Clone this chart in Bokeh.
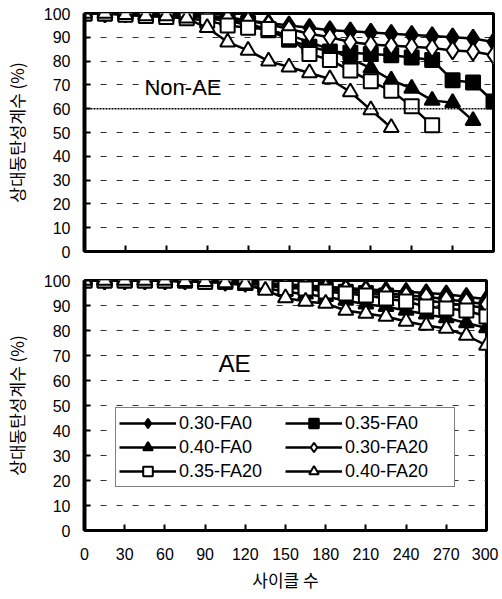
from bokeh.plotting import figure
from bokeh.models import Range1d, FixedTicker, Span, Legend, LegendItem, Label
from bokeh.layouts import column
from bokeh.embed import file_html
from bokeh.resources import INLINE

# ---- data ----
cycles = list(range(0, 301, 15))
x_ticks = list(range(0, 301, 30))
y_ticks = list(range(0, 101, 10))
series_labels = ["0.30-FA0", "0.35-FA0", "0.40-FA0", "0.30-FA20", "0.35-FA20", "0.40-FA20"]

# Non-AE (top panel)
nonae_030_fa0 = [100, 100, 100, 100, 100, 99.5, 99, 98.5, 97, 96, 95, 94, 93, 92.5, 92, 91.5, 91, 90.5, 90, 89.5, 88]
nonae_035_fa0 = [100, 100, 100, 99.5, 99.5, 99, 98.5, 97.5, 96, 93, 89, 86, 84, 83.5, 83, 82.5, 81.5, 80.5, 72, 71, 63]
nonae_040_fa0 = [100, 100, 100, 99.5, 99.5, 99, 98, 97, 95, 93, 91, 88, 85, 81, 77, 72, 68.5, 63.5, 62.5, 55]
nonae_030_fa20 = [100, 100, 100, 100, 99.5, 99, 98.5, 98, 97, 95.5, 93.5, 91.5, 90, 88, 87, 86.5, 86, 85.5, 84.5, 84, 82.5]
nonae_035_fa20 = [100, 100, 99.5, 99, 98.5, 98, 97, 95, 94, 93.5, 90, 83, 80.5, 76, 71.5, 67.5, 61, 53]
nonae_040_fa20 = [100, 100, 99.5, 99, 99, 98, 94, 88, 84.5, 80, 77.5, 75, 72.5, 67, 59.5, 52]

# AE (bottom panel)
ae_030_fa0 = [100, 100, 100, 100, 100, 100, 100, 99.5, 99.5, 99, 98.5, 98, 97.5, 97, 96.5, 96, 95.5, 95, 94.5, 93.5, 92.5]
ae_035_fa0 = [100, 100, 100, 100, 100, 100, 99.5, 99.5, 99, 98.5, 97.5, 97, 96.5, 95.5, 95, 94, 93, 92, 91, 90, 89]
ae_040_fa0 = [100, 100, 100, 100, 100, 99.5, 99.5, 99, 98, 97, 95.5, 94.5, 93.5, 92, 90.5, 89.5, 88, 86.5, 85, 83, 81]
ae_030_fa20 = [100, 100, 100, 100, 100, 100, 100, 99.5, 99, 98.5, 98, 97.5, 97, 96.5, 96, 95, 94, 93.5, 92.5, 91.5, 90.5]
ae_035_fa20 = [100, 100, 100, 100, 100, 100, 99.5, 99.5, 99, 98, 97, 96.8, 95.6, 94.8, 94, 92.8, 91.6, 89.6, 88.8, 88, 85.6]
ae_040_fa20 = [100, 100, 100, 100, 100, 99.5, 99.5, 99, 98.5, 96, 93, 91.6, 90.8, 88, 86.8, 85.6, 83.6, 82, 80.8, 78, 74]

panel_titles = ["Non-AE", "AE"]
panel_title_pos = [(44, 69), (100, 67)]
y_label = "상대동탄성계수 (%)"
x_label = "사이클 수"

# ---- styles ----
markers = ["diamond", "square", "triangle", "diamond", "square", "triangle"]
fills = ["black", "black", "black", "white", "white", "white"]
sizes = [18, 14, 15, 18, 14, 15]
NUM_FONT = "Liberation Sans"
KR_FONT = "Noto Sans CJK KR"


def make_fig(fw, fh, bl, bt, bb, br, show_xlabels):
    p = figure(frame_width=fw, frame_height=fh, x_range=Range1d(0, 300), y_range=Range1d(0, 100),
               output_backend="svg", toolbar_location=None,
               min_border_left=bl, min_border_top=bt, min_border_bottom=bb, min_border_right=br)
    p.outline_line_color = "black"
    p.outline_line_width = 3
    p.xgrid.visible = False
    p.ygrid.grid_line_color = "#333333"
    p.ygrid.grid_line_dash = "6 10"
    p.ygrid.grid_line_width = 1
    for ax in (p.xaxis[0], p.yaxis[0]):
        ax.axis_line_color = "black"
        ax.major_tick_line_color = "black"
        ax.major_tick_line_width = 2
        ax.major_tick_in = 6
        ax.major_tick_out = 0
        ax.minor_tick_line_color = None
        ax.major_label_text_font = NUM_FONT
        ax.major_label_text_color = "black"
        ax.axis_label_text_font = KR_FONT
        ax.axis_label_text_font_style = "normal"
        ax.axis_label_text_color = "black"
    p.yaxis.axis_line_width = 4
    p.xaxis.axis_line_width = 3
    p.yaxis.ticker = FixedTicker(ticks=y_ticks)
    p.xaxis.ticker = FixedTicker(ticks=x_ticks)
    p.yaxis.major_label_text_font_size = "16px"
    p.yaxis.major_label_standoff = 14
    p.yaxis.axis_label = y_label
    p.yaxis.axis_label_text_font_size = "17px"
    p.yaxis.axis_label_standoff = 12
    if show_xlabels:
        p.xaxis.major_label_text_font_size = "16px"
        p.xaxis.major_label_standoff = 17
        p.xaxis.axis_label = x_label
        p.xaxis.axis_label_text_font_size = "17px"
        p.xaxis.axis_label_standoff = 4
    else:
        p.xaxis.major_label_overrides = {t: "" for t in x_ticks}
        p.xaxis.major_label_text_font_size = "10px"
        p.xaxis.major_label_standoff = 0
    return p


def draw_series(p, series):
    items = []
    for i, vals in enumerate(series):
        xs = cycles[:len(vals)]
        lr = p.line(xs, vals, line_color="black", line_width=2.5)
        mr = p.scatter(xs, vals, marker=markers[i], size=sizes[i], fill_color=fills[i],
                       line_color="black", line_width=2)
        items.append(LegendItem(label=series_labels[i], renderers=[lr, mr]))
    return items


# top panel
top = make_fig(409, 238, 81, 13, 14, 4, False)
top.ygrid.ticker = FixedTicker(ticks=[t for t in y_ticks if t not in (0, 60, 100)])
top.add_layout(Span(location=60, dimension="width", line_color="black", line_width=1.5, line_dash="2 1"))
draw_series(top, [nonae_030_fa0, nonae_035_fa0, nonae_040_fa0, nonae_030_fa20, nonae_035_fa20, nonae_040_fa20])
top.add_layout(Label(x=panel_title_pos[0][0], y=panel_title_pos[0][1], text=panel_titles[0],
                     text_baseline="middle", text_font=NUM_FONT, text_font_size="22px", text_color="black"))

# bottom panel
bot = make_fig(402, 250, 77, 15, 59, 12, True)
bot.ygrid.ticker = FixedTicker(ticks=[t for t in y_ticks if t not in (0, 100)])
items = draw_series(bot, [ae_030_fa0, ae_035_fa0, ae_040_fa0, ae_030_fa20, ae_035_fa20, ae_040_fa20])
bot.add_layout(Label(x=panel_title_pos[1][0], y=panel_title_pos[1][1], text=panel_titles[1],
                     text_baseline="middle", text_font=NUM_FONT, text_font_size="24px", text_color="black"))

legend = Legend(items=items, location=(31, 43), orientation="horizontal", ncols=2,
                label_text_font=NUM_FONT, label_text_font_size="18px", label_text_color="black",
                glyph_width=57, glyph_height=24, label_width=106, label_standoff=3,
                spacing=0, padding=3, margin=0,
                border_line_color="black", border_line_width=1,
                background_fill_color="white", background_fill_alpha=1.0)
bot.add_layout(legend, "center")

layout = column(top, bot, spacing=0)
open("out.html", "w").write(file_html(layout, INLINE))
